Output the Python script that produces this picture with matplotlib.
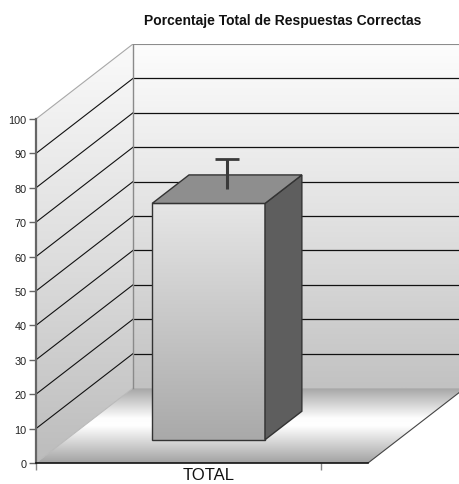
import numpy as np
import matplotlib
matplotlib.use("Agg")
import matplotlib.pyplot as plt
from matplotlib.patches import Polygon
from matplotlib.colors import LinearSegmentedColormap

plt.rcParams['font.family'] = ['Liberation Sans', 'DejaVu Sans']

# ---------------- data ----------------
title = "Porcentaje Total de Respuestas Correctas"
categories = ["TOTAL"]
values = [68.7]
errors = [8.7]
yticks = [0, 10, 20, 30, 40, 50, 60, 70, 80, 90, 100]

# ---------------- layout constants (3D oblique look) ----------------
ymax = 100
DX, DY = 0.3404, 21.8          # depth vector in data units
floor_right = 0.665            # right end of floor front edge
bar_w = 0.396
d0, d1 = 0.31, 0.69            # bar depth range (fraction of depth)

fig = plt.figure(figsize=(4.6, 4.85), dpi=100)
ax = fig.add_axes([36 / 460, 21 / 485, 424 / 460, (464 - 45) / 485])
ax.set_xlim(-0.5, -0.5 + 424 / 285)
ax.set_ylim(0, ymax + DY)
ax.set_facecolor('white')


def grad_fill(pts, y0, y1, stops, z):
    cmap = LinearSegmentedColormap.from_list('g', stops)
    poly = Polygon(pts, closed=True, facecolor='none', edgecolor='none',
                   transform=ax.transData)
    ax.add_patch(poly)
    xs = [p[0] for p in pts]
    img = np.linspace(0, 1, 256).reshape(-1, 1)
    im = ax.imshow(img, cmap=cmap, extent=(min(xs), max(xs), y0, y1),
                   origin='lower', aspect='auto', zorder=z,
                   interpolation='bilinear')
    im.set_clip_path(poly)
    return im


xl = -0.5
# back wall
back = [(xl + DX, DY), (floor_right + DX, DY), (floor_right + DX, ymax + DY), (xl + DX, ymax + DY)]
grad_fill(back, DY, ymax + DY, [(0, '#c2c2c2'), (0.5, '#e2e2e2'), (1, '#fdfdfd')], 1)
# side wall
side = [(xl, 0), (xl, ymax), (xl + DX, ymax + DY), (xl + DX, DY)]
grad_fill(side, 0, ymax + DY, [(0, '#bcbcbc'), (0.5, '#dedede'), (1, '#fafafa')], 1)
# floor
floor = [(xl, 0), (floor_right, 0), (floor_right + DX, DY), (xl + DX, DY)]
grad_fill(floor, 0, DY, [(0, '#a2a2a2'), (0.5, '#ffffff'), (0.6, '#fdfdfd'), (1, '#a6a6a6')], 1)

# gridlines
for t in yticks:
    if t == 0:
        ax.plot([xl, xl + DX], [0, DY], color='#b8b8b8', lw=0.7, zorder=2)
        ax.plot([xl + DX, floor_right + DX], [DY, DY], color='#b4b4b4', lw=0.6, zorder=2)
    elif t == ymax:
        ax.plot([xl, xl + DX], [t, t + DY], color='#a8a8a8', lw=0.8, zorder=2)
        ax.plot([xl + DX, floor_right + DX], [t + DY, t + DY], color='#8c8c8c', lw=0.8, zorder=2)
    else:
        ax.plot([xl, xl + DX], [t, t + DY], color='#111111', lw=0.8, zorder=2)
        ax.plot([xl + DX, floor_right + DX], [t + DY, t + DY], color='#111111', lw=0.9, zorder=2)
# back wall left edge
ax.plot([xl + DX, xl + DX], [DY, ymax + DY], color='#8a8a8a', lw=1.0, zorder=2)
# floor right edge
ax.plot([floor_right, floor_right + DX], [0, DY], color='#444444', lw=0.8, zorder=2)

# bars
for i, (v, e) in enumerate(zip(values, errors)):
    x0 = i - bar_w / 2 + d0 * DX
    x1 = i + bar_w / 2 + d0 * DX
    yb = d0 * DY
    yt = v + d0 * DY
    ddx, ddy = (d1 - d0) * DX, (d1 - d0) * DY
    front = [(x0, yb), (x1, yb), (x1, yt), (x0, yt)]
    grad_fill(front, yb, yt, [(0, '#a9a9a9'), (1, '#e6e6e6')], 3)
    ax.add_patch(Polygon(front, closed=True, facecolor='none', edgecolor='#333333', lw=1.0, zorder=4))
    sidef = [(x1, yb), (x1 + ddx, yb + ddy), (x1 + ddx, yt + ddy), (x1, yt)]
    ax.add_patch(Polygon(sidef, closed=True, facecolor='#5e5e5e', edgecolor='#333333', lw=1.0, zorder=4))
    top = [(x0, yt), (x1, yt), (x1 + ddx, yt + ddy), (x0 + ddx, yt + ddy)]
    ax.add_patch(Polygon(top, closed=True, facecolor='#8e8e8e', edgecolor='#333333', lw=1.0, zorder=4))
    _, caps, _ = ax.errorbar([i + 0.5 * DX], [v + 0.5 * DY], yerr=[[0], [e]], fmt='none',
                             ecolor='#3a3a3a', elinewidth=2.2, capsize=8.3, capthick=2.0, zorder=5)
    base = v + 0.5 * DY
    for c in caps:
        if np.all(np.asarray(c.get_ydata()) <= base + 1e-9):
            c.set_visible(False)

# axes styling
for s in ['top', 'right']:
    ax.spines[s].set_visible(False)
ax.spines['left'].set_bounds(0, ymax)
ax.spines['left'].set_color('#666666')
ax.spines['left'].set_linewidth(1.6)
ax.spines['left'].set_zorder(6)
ax.spines['bottom'].set_bounds(xl, floor_right)
ax.spines['bottom'].set_color('#111111')
ax.spines['bottom'].set_linewidth(1.2)
ax.spines['bottom'].set_zorder(6)

ax.set_yticks(yticks)
ax.set_yticklabels([str(t) for t in yticks])
ax.tick_params(axis='y', direction='out', length=5, width=1, color='#666666',
               labelsize=7.8, labelcolor='#222222', pad=2)
ax.set_xticks([xl, 0.5])
ax.set_xticklabels(['', ''])
ax.tick_params(axis='x', which='major', direction='out', length=5, width=1, color='#888888')
ax.set_xticks([i + d0 * DX for i in range(len(categories))], labels=categories, minor=True)
ax.tick_params(axis='x', which='minor', length=0, labelsize=12, labelcolor='#111111', pad=3)

fig.text(283 / 460, 1 - 21 / 485, title, ha='center', va='center',
         fontweight='bold', fontsize=10, color='#111111')

fig.savefig('out.png', dpi=100)
